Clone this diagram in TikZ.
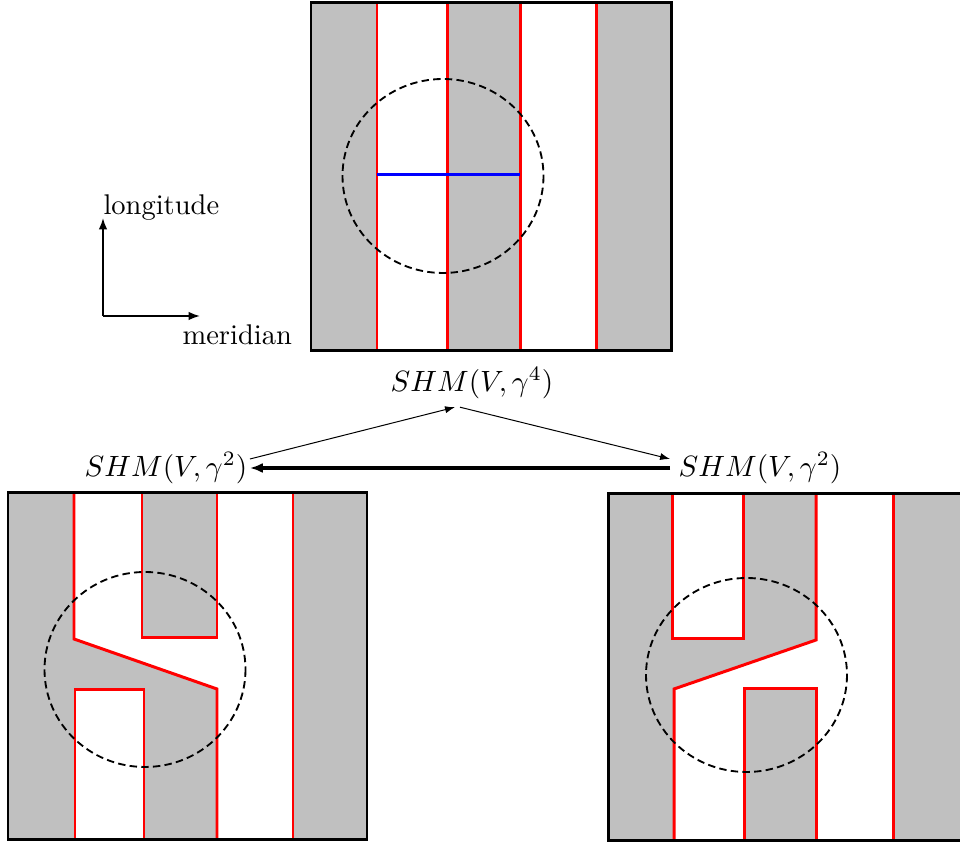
\documentclass[tikz,border=0pt]{standalone}
\usetikzlibrary{arrows.meta}
\definecolor{sqgray}{RGB}{192,192,192}
\begin{document}
\begin{tikzpicture}[x=0.351pt,y=-0.351pt,
  frame/.style={draw=black, line width=1.05pt},
  redl/.style={draw=red, line width=1.05pt, line join=miter},
  bluel/.style={draw=blue, line width=1.05pt},
  circ/.style={draw=black, line width=0.65pt, dash pattern=on 2.6pt off 1.5pt},
  lab/.style={inner sep=0pt},
  mlab/.style={inner sep=0pt, scale=1.03},
  axarr/.style={-{Latex[length=4pt,width=3pt]}, line width=0.6pt},
  thinarr/.style={-{Latex[length=3.5pt,width=2.5pt]}, line width=0.35pt},
  thickarr/.style={-{Latex[length=4.5pt,width=3.5pt]}, line width=1.1pt}]
\useasboundingbox (0,0) rectangle (960,846);
\clip (0,0) rectangle (960,846);

% ---- top square ----
\fill[sqgray] (311,3) rectangle (671,351);
\fill[white] (377,3) rectangle (447,351);
\fill[white] (520,3) rectangle (596,351);
\draw[redl] (377,3) -- (377,351);
\draw[redl] (447,3) -- (447,352);
\draw[redl] (520,3) -- (520,351);
\draw[redl] (596,3) -- (596,351);
\draw[bluel] (377,175) -- (520,175);
\draw[circ] (443,176) ellipse [x radius=100.5, y radius=97];
\draw[frame] (311,3) rectangle (671,351);

% ---- left square ----
\fill[sqgray] (8,493) rectangle (367,840);
\fill[white] (74,493) -- (142,493) -- (142,638) -- (217,638) -- (217,493) -- (293,493)
  -- (293,840) -- (217,840) -- (217,689) -- (74,639) -- cycle;
\fill[white] (75,690) rectangle (144,840);
\draw[redl] (74,493) -- (74,639) -- (217,689) -- (217,840);
\draw[redl] (142,493) -- (142,638) -- (217,638) -- (217,493);
\draw[redl] (75,840) -- (75,690) -- (144,690) -- (144,840);
\draw[redl] (293,493) -- (293,840);
\draw[circ] (145,669.5) ellipse [x radius=100.5, y radius=97.5];
\draw[frame] (8,493) rectangle (367,840);

% ---- right square ----
\fill[sqgray] (608,494) rectangle (975,841);
\fill[white] (672,494) rectangle (743,639);
\fill[white] (816,494) -- (893,494) -- (893,841) -- (816,841) -- (816,689) -- (744,689)
  -- (744,841) -- (674,841) -- (674,689) -- (816,640) -- cycle;
\draw[redl] (672,494) -- (672,639) -- (743,639) -- (743,494);
\draw[redl] (816,494) -- (816,640) -- (674,689) -- (674,841);
\draw[redl] (744,841) -- (744,689) -- (816,689) -- (816,841);
\draw[redl] (893,494) -- (893,841);
\draw[circ] (746.5,675) ellipse [x radius=100.5, y radius=97];
\draw[frame] (608,494) rectangle (975,841);

% ---- axes ----
\coordinate (o) at (103,316);
\coordinate (ly) at (103,218);
\coordinate (mx) at (200,316);
\draw[axarr] (o) -- (ly);
\draw[axarr] (o) -- (mx);
\node[lab, anchor=base west] (lon) at (103,215) {longitude};
\node[lab, anchor=base west] (mer) at (182,345) {meridian};

% ---- labels and maps ----
\node[mlab] (top) at (472,383) {$SHM(V,\gamma^4)$};
\node[mlab] (left) at (166,468) {$SHM(V,\gamma^2)$};
\node[mlab] (right) at (760,468) {$SHM(V,\gamma^2)$};
\draw[thinarr] ([shift={(2,-9)}]left.east) -- ([shift={(-17,8)}]top.south);
\draw[thinarr] ([shift={(-12,8)}]top.south) -- ([shift={(-8,-9)}]right.west);
\draw[thickarr] ([shift={(-8,0)}]right.west) -- ([shift={(2,0)}]left.east);
\end{tikzpicture}
\end{document}
